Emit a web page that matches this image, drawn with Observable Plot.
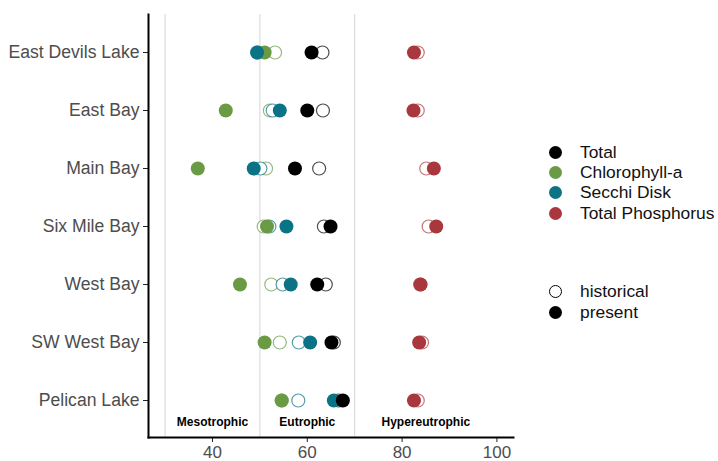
<!DOCTYPE html>
<html><head><meta charset="utf-8">
<script src="https://cdn.jsdelivr.net/npm/d3@7"></script>
<script src="https://cdn.jsdelivr.net/npm/@observablehq/plot@0.6"></script>
<style>
body{margin:0;background:#fff;font-family:"Liberation Sans",Arial,sans-serif;}
#wrap{position:relative;width:718px;height:461px;}
.legend{position:absolute;left:549px;top:0;font-size:17.4px;color:#111;}
.item{position:absolute;left:0;height:20px;display:flex;align-items:center;white-space:nowrap;}
.sw{display:inline-block;width:13px;height:13px;border-radius:50%;margin-right:18px;box-sizing:border-box;}
</style>
</head><body>
<div id="wrap"></div>
<script>
const lakes = ["East Devils Lake","East Bay","Main Bay","Six Mile Bay","West Bay","SW West Bay","Pelican Lake"];
const params = ["Total","Chlorophyll-a","Secchi Disk","Total Phosphorus"];
const paramColors = ["#000000","#6b9a45","#0a7385","#a8383e"];
const drawOrder = ["Chlorophyll-a","Secchi Disk","Total Phosphorus","Total"];

const totalPresent      = [60.9, 60.0, 57.4, 64.9, 62.1, 65.1, 67.5];
const totalHistorical   = [63.2, 63.3, 62.5, 63.5, 63.9, 65.6, 66.6];
const chlPresent        = [51.0, 42.8, 36.9, 51.5, 45.8, 51.0, 54.6];
const chlHistorical     = [53.2, 52.1, 51.3, 50.8, 52.4, 54.2, 54.6];
const secchiPresent     = [49.4, 54.2, 48.7, 55.6, 56.5, 60.6, 65.6];
const secchiHistorical  = [49.6, 52.7, 50.1, 52.0, 54.8, 58.2, 58.1];
const tpPresent         = [82.5, 82.4, 86.7, 87.2, 83.9, 83.6, 82.5];
const tpHistorical      = [83.3, 83.3, 85.1, 85.6, 83.8, 84.2, 83.3];

const zoneNames = ["Mesotrophic","Eutrophic","Hypereutrophic"];
const zoneLabelX = [40, 60, 85];
const zoneBreaks = [30, 50, 70];
const xTicks = [40, 60, 80, 100];
const periods = ["historical","present"];

const series = {
  "Total": [totalHistorical, totalPresent],
  "Chlorophyll-a": [chlHistorical, chlPresent],
  "Secchi Disk": [secchiHistorical, secchiPresent],
  "Total Phosphorus": [tpHistorical, tpPresent]
};
const rows = [];
periods.forEach((period, pi) => {
  drawOrder.forEach(param => {
    series[param][pi].forEach((v, i) => rows.push({lake: lakes[i], param, period, value: v}));
  });
});

const chart = Plot.plot({
  width: 718, height: 461,
  marginLeft: 148, marginRight: 205, marginTop: 14, marginBottom: 24,
  style: {fontFamily: "'Liberation Sans', Arial, sans-serif", background: "white"},
  x: {domain: [26.5, 103.5]},
  y: {type: "point", domain: lakes, padding: 0.6},
  color: {domain: params, range: paramColors},
  marks: [
    Plot.ruleX(zoneBreaks, {stroke: "#d6d6d6", strokeWidth: 1}),
    Plot.text(zoneNames, {x: (d, i) => zoneLabelX[i], text: d => d, frameAnchor: "bottom", dy: -12,
      fontWeight: "bold", fontSize: 12, fill: "black"}),
    Plot.dot(rows.filter(d => d.period === "historical"), {x: "value", y: "lake", stroke: "param",
      fill: "white", r: 6.5, strokeWidth: 1.2, strokeOpacity: 0.7}),
    Plot.dot(rows.filter(d => d.period === "present"), {x: "value", y: "lake", fill: "param", r: 7}),
    Plot.axisX({ticks: xTicks, tickSize: 5, tickPadding: 3, fontSize: 17, fill: "#4d4d4d", stroke: "#222", label: null}),
    Plot.axisY({tickSize: 5, tickPadding: 4, fontSize: 17.6, fill: "#4d4d4d", stroke: "#222", label: null}),
    Plot.frame({anchor: "left", strokeWidth: 2, stroke: "black"}),
    Plot.frame({anchor: "bottom", strokeWidth: 2, stroke: "black"})
  ]
});
const wrap = document.getElementById("wrap");
wrap.appendChild(chart);

const legend = document.createElement("div");
legend.className = "legend";
const paramTops = [152, 172, 192, 213];
params.forEach((p, i) => {
  const it = document.createElement("div");
  it.className = "item";
  it.style.top = (paramTops[i] - 10) + "px";
  it.innerHTML = `<span class="sw" style="background:${paramColors[i]}"></span><span>${p}</span>`;
  legend.appendChild(it);
});
const periodTops = [291, 312];
periods.forEach((p, i) => {
  const it = document.createElement("div");
  it.className = "item";
  it.style.top = (periodTops[i] - 10) + "px";
  const st = p === "historical" ? "background:white;border:1.2px solid black" : "background:black";
  it.innerHTML = `<span class="sw" style="${st}"></span><span>${p}</span>`;
  legend.appendChild(it);
});
wrap.appendChild(legend);
</script>
</body></html>
